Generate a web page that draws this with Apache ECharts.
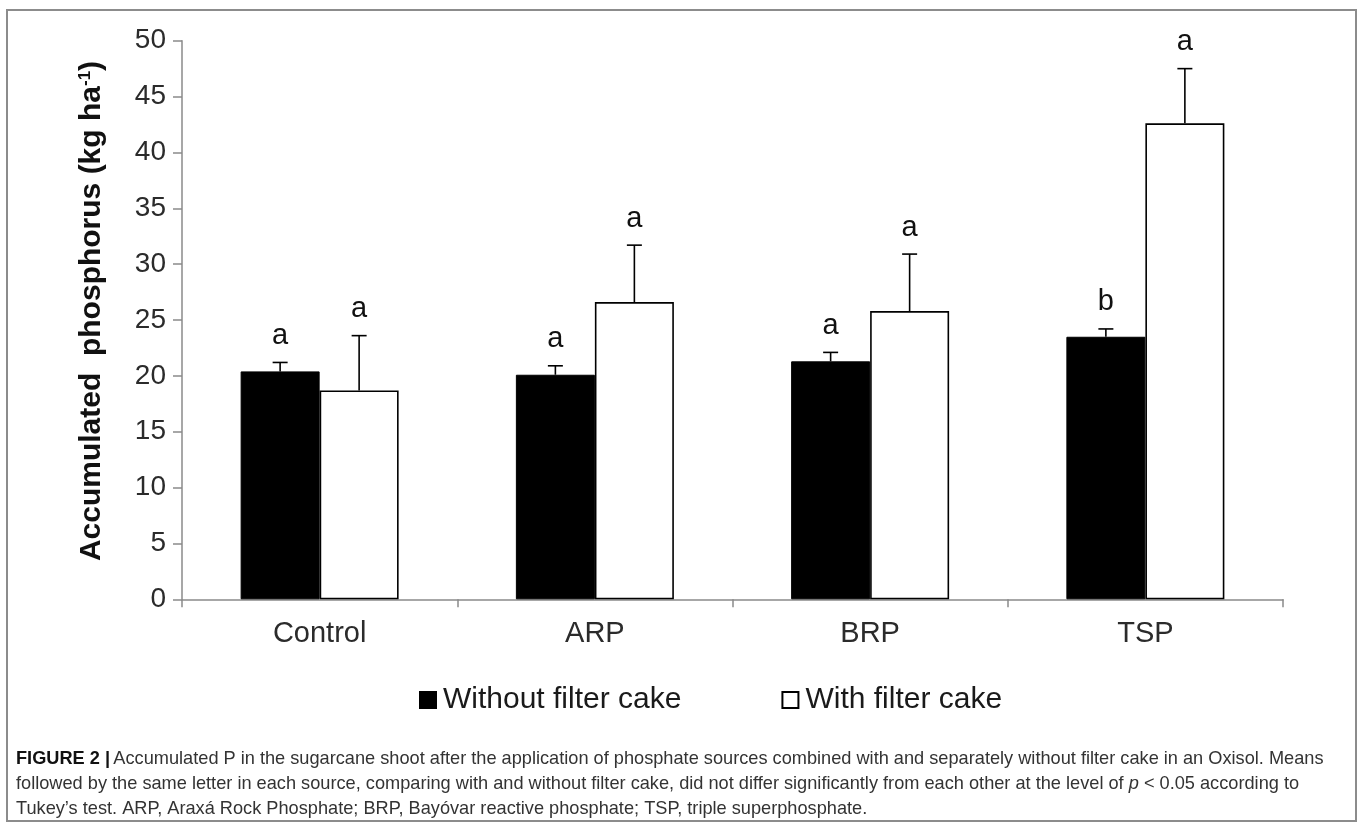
<!DOCTYPE html>
<html>
<head>
<meta charset="utf-8">
<script src="https://cdn.jsdelivr.net/npm/echarts@6/dist/echarts.min.js"></script>
<style>
html,body{margin:0;padding:0;background:#fff;}
#chart{width:1358px;height:823px;}
</style>
</head>
<body>
<div id="chart"></div>
<script>
// ---- data ----
const categories = ['Control', 'ARP', 'BRP', 'TSP'];
const withoutFilterCake = [20.4, 20.1, 21.3, 23.5];
const withFilterCake = [18.7, 26.6, 25.8, 42.6];
const errWithout = [0.8, 0.8, 0.8, 0.7];
const errWith = [4.9, 5.1, 5.1, 4.9];
const lettersWithout = ['a', 'a', 'a', 'b'];
const lettersWith = ['a', 'a', 'a', 'a'];
const seriesNames = ['Without filter cake', 'With filter cake'];
const yTicks = [0, 50, 5]; // min, max, interval
const captionLines = [
  '{b|FIGURE 2 |} {r|Accumulated P in the sugarcane shoot after the application of phosphate sources combined with and separately without filter cake in an Oxisol. Means}',
  '{r|followed by the same letter in each source, comparing with and without filter cake, did not differ significantly from each other at the level of }{i|p}{r| < 0.05 according to}',
  '{r|Tukey\u2019s test. ARP, Araxá Rock Phosphate; BRP, Bayóvar reactive phosphate; TSP, triple superphosphate.}'
];

// ---- styling ----
const FONT = 'Arial, "Liberation Sans", sans-serif';
const BAR_W = 79;
const AXIS_COLOR = '#8a8a8a';
const TEXT_COLOR = '#2b2b2b';
const CAP_SIZE = 18.2;

const chart = echarts.init(document.getElementById('chart'), null, {renderer: 'canvas'});

function errorSeries(means, errs, letters, side) {
  return {
    type: 'custom',
    z: 10,
    silent: true,
    renderItem: function (params, api) {
      const i = api.value(0);
      const m = api.value(1);
      const e = api.value(2);
      const base = api.coord([i, m]);
      const top = api.coord([i, m + e]);
      const x = base[0] + side * BAR_W / 2;
      return {
        type: 'group',
        children: [
          {type: 'line', shape: {x1: x, y1: base[1], x2: x, y2: top[1]},
           style: {stroke: '#000', lineWidth: 1.6}},
          {type: 'line', shape: {x1: x - 7.5, y1: top[1], x2: x + 7.5, y2: top[1]},
           style: {stroke: '#000', lineWidth: 1.6}},
          {type: 'text', x: x, y: top[1] - 12,
           style: {text: letters[i], fill: '#111', font: '29px ' + FONT,
                   align: 'center', verticalAlign: 'bottom'}}
        ]
      };
    },
    data: means.map((v, i) => [i, v, errs[i]])
  };
}

const option = {
  backgroundColor: '#fff',
  animation: false,
  grid: {left: 182, right: 75, top: 40.7, bottom: 223.7, containLabel: false},
  legend: {
    data: seriesNames,
    left: 414,
    top: 680,
    icon: 'rect',
    itemWidth: 16,
    itemHeight: 16,
    itemGap: 100,
    textStyle: {fontFamily: FONT, fontSize: 30, color: '#1a1a1a', padding: [0, 0, 0, 2]}
  },
  xAxis: {
    type: 'category',
    data: categories,
    axisLine: {lineStyle: {color: AXIS_COLOR, width: 1.5}},
    axisTick: {show: true, length: 8, alignWithLabel: false, lineStyle: {color: AXIS_COLOR, width: 1.5}},
    axisLabel: {fontFamily: FONT, fontSize: 29, color: TEXT_COLOR, margin: 20},
    splitLine: {show: false}
  },
  yAxis: {
    type: 'value',
    min: yTicks[0],
    max: yTicks[1],
    interval: yTicks[2],
    axisLine: {show: true, lineStyle: {color: AXIS_COLOR, width: 1.5}},
    axisTick: {show: true, length: 9, lineStyle: {color: AXIS_COLOR, width: 1.5}},
    axisLabel: {fontFamily: FONT, fontSize: 28, color: TEXT_COLOR, margin: 16},
    splitLine: {show: false},
    name: '{a|Accumulated  phosphorus (kg ha}{s|-1}{a|)}',
    nameLocation: 'middle',
    nameGap: 75,
    nameTextStyle: {
      padding: [0, 0, 0, 18],
      rich: {
        a: {fontFamily: FONT, fontSize: 30, fontWeight: 'bold', color: '#111'},
        s: {fontFamily: FONT, fontSize: 17, fontWeight: 'bold', color: '#111', verticalAlign: 'top', padding: [0, 0, 12, 0]}
      }
    }
  },
  series: [
    {
      name: seriesNames[0],
      type: 'bar',
      data: withoutFilterCake,
      barWidth: BAR_W,
      barGap: '0%',
      itemStyle: {color: '#000', borderColor: '#000', borderWidth: 1}
    },
    {
      name: seriesNames[1],
      type: 'bar',
      data: withFilterCake,
      barWidth: BAR_W,
      barGap: '0%',
      itemStyle: {color: '#fff', borderColor: '#000', borderWidth: 1.6}
    },
    errorSeries(withoutFilterCake, errWithout, lettersWithout, -1),
    errorSeries(withFilterCake, errWith, lettersWith, 1)
  ],
  graphic: [
    {type: 'rect', shape: {x: 7, y: 10, width: 1349, height: 811}, style: {fill: 'none', stroke: '#8c8c8c', lineWidth: 2}, z: -1},
    ...captionLines.map((t, k) => ({
      type: 'text', left: 16, top: 760 + k * 25 - 10,
      style: {
        text: t,
        rich: {
          b: {fontFamily: FONT, fontSize: CAP_SIZE, fontWeight: 'bold', fill: '#111'},
          r: {fontFamily: FONT, fontSize: CAP_SIZE, fill: '#333'},
          i: {fontFamily: FONT, fontSize: CAP_SIZE, fontStyle: 'italic', fill: '#333'}
        }
      }
    }))
  ]
};
chart.setOption(option);
</script>
</body>
</html>
